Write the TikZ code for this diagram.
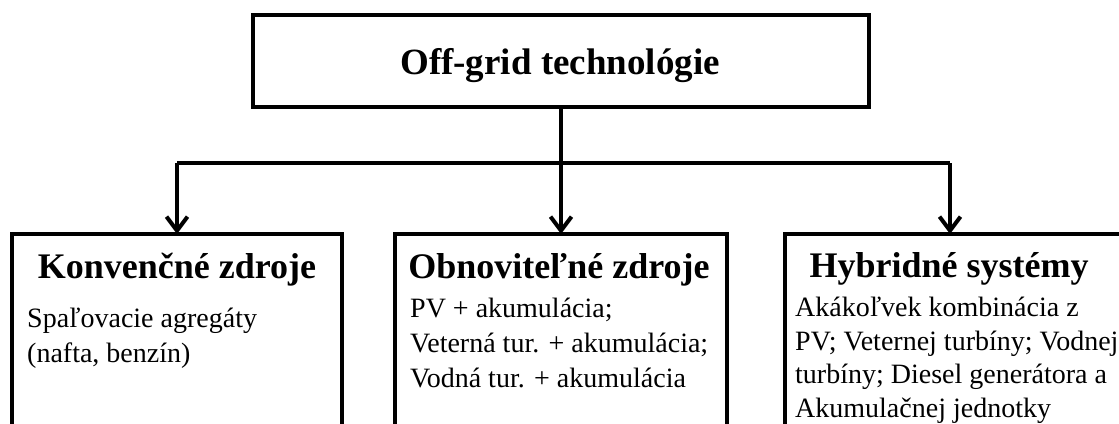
\documentclass[tikz,border=0pt]{standalone}
\usepackage{fontspec}
\setmainfont{Liberation Serif}
\usetikzlibrary{arrows.meta}
\begin{document}
\begin{tikzpicture}[x=1pt,y=-1pt,
  box/.style={draw, line width=4pt, rectangle, inner sep=0pt, outer sep=0pt},
  head/.style={anchor=base, inner sep=0pt, font=\bfseries\fontsize{36}{40}\selectfont},
  body/.style={anchor=base west, inner sep=0pt, align=left, font=\fontsize{28}{35}\selectfont},
  conn/.style={line width=4pt},
  arr/.style={conn, -{Straight Barb[length=14pt,width=21pt,line width=4pt]}}]
\clip (0,0) rectangle (1119,423);
\fill[white] (0,0) rectangle (1119,423);
% top box
\node[box, minimum width=616pt, minimum height=91.5pt] (top) at (561,60.75) {};
\node[head, font=\bfseries\fontsize{37}{40}\selectfont] (title) at (560,74) {Off-grid technológie};
% lower boxes (open at the bottom, extend past the picture edge)
\node[box, minimum width=330pt, minimum height=240pt] (left) at (177,354) {};
\node[box, minimum width=332pt, minimum height=240pt] (mid) at (561,354) {};
\node[box, minimum width=340pt, minimum height=240pt] (right) at (955,354) {};
% headings
\node[head] (lh) at (177,278) {Konvenčné zdroje};
\node[head] (mh) at (559,278) {Obnoviteľné zdroje};
\node[head] (rh) at (949,277) {Hybridné systémy};
% body texts (anchored at the baseline of the last line)
\node[body] (lb) at (27,362) {Spaľovacie agregáty\\(nafta, benzín)};
\node[body] (mb) at (410,387) {PV + akumulácia;\\Veterná tur. + akumulácia;\\Vodná tur. + akumulácia};
\node[body, font=\fontsize{28}{33.5}\selectfont] (rb) at (795,417) {Akákoľvek kombinácia z\\PV; Veternej turbíny; Vodnej\\turbíny; Diesel generátora a\\Akumulačnej jednotky};
% connectors
\coordinate (hL) at (177,163);
\coordinate (hR) at (950,163);
\draw[conn] (hL) -- (hR);
\draw[arr] (top.south) -- (mid.north);
\draw[arr] (hL) -- (hL |- left.north);
\draw[arr] (hR) -- (hR |- right.north);
\end{tikzpicture}
\end{document}
